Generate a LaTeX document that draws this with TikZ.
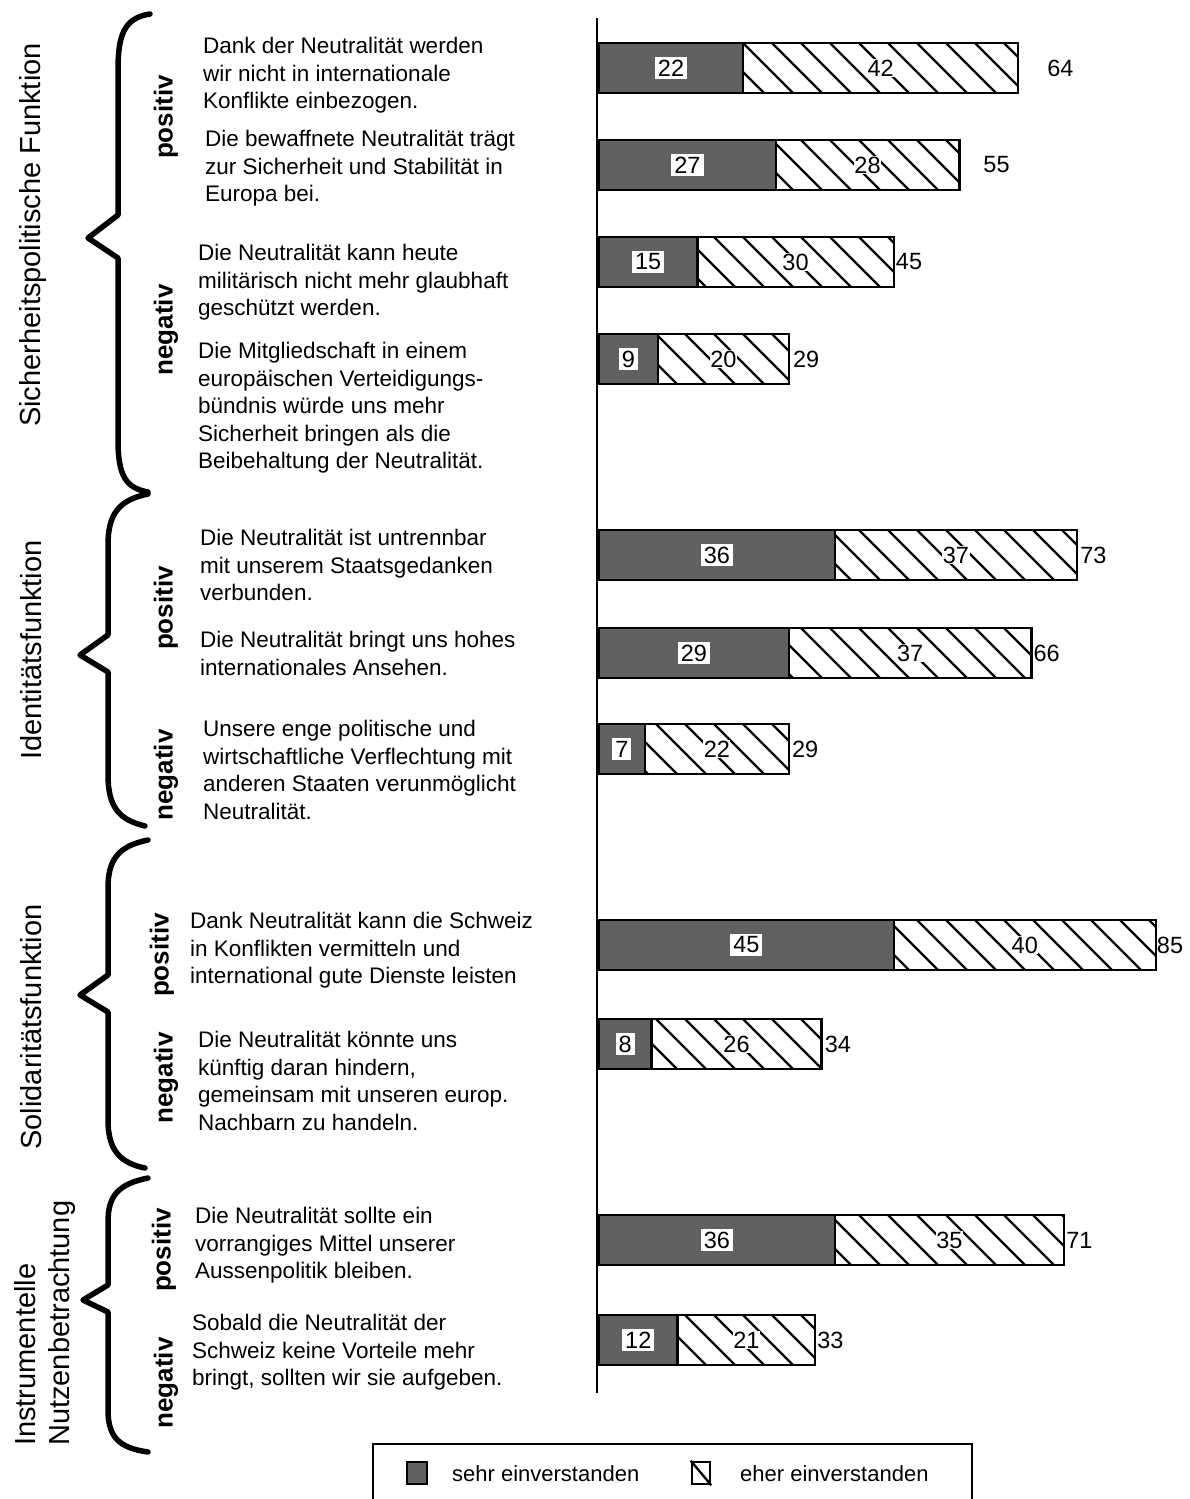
\documentclass[tikz,border=0pt]{standalone}
\usepackage{fontspec}
\setmainfont{Liberation Sans}

\newcommand{\surveybar}[5]{%
  \pgfmathsetmacro\xa{599+6.55*#3}%
  \pgfmathsetmacro\xb{599+6.55*(#3+#4)}%
  \pgfmathtruncatemacro\tot{#3+#4}%
  \path[darkpart] (599,#2-25) rectangle (\xa,#2+25);
  \begin{scope}
    \clip (\xa,#2-25) rectangle (\xb,#2+25);
    \foreach \k in {0,...,22} {\draw[hatchline] (540+\k*29,#2-25) -- ++(50,50);}
  \end{scope}
  \draw[barline] (\xa,#2-25) -- (\xa,#2+25);
  \draw[barline] (599,#2-25) rectangle (\xb,#2+25);
  \node[darknum] (#1-a) at ({(599+\xa)/2},#2) {#3};
  \node[hatchnum] (#1-b) at ({(\xa+\xb)/2},#2) {#4};
  \node[totnum] (#1-t) at (\xb+#5,#2) {\tot};
}

\begin{document}
\begin{tikzpicture}[x=1pt,y=-1pt,
  stmt/.style={anchor=north west, align=left, inner sep=0pt, font=\fontsize{22.5}{27.5}\selectfont},
  grouplabel/.style={rotate=90, inner sep=0pt, font=\fontsize{29}{34}\selectfont, align=left},
  pnlabel/.style={rotate=90, inner sep=0pt, font=\fontsize{26}{30}\selectfont\bfseries},
  brace/.style={line width=5.5pt, line cap=round, line join=round},
  darkpart/.style={fill=black!62},
  hatchline/.style={line width=2.3pt},
  barline/.style={line width=2.5pt},
  darknum/.style={fill=white, inner sep=3pt, font=\fontsize{23.5}{23.5}\selectfont},
  hatchnum/.style={fill=white, inner sep=0.5pt, font=\fontsize{23.5}{23.5}\selectfont},
  totnum/.style={anchor=west, inner sep=0pt, font=\fontsize{23.5}{23.5}\selectfont},
  legtext/.style={anchor=west, inner sep=0pt, font=\fontsize{22}{22}\selectfont}]
\useasboundingbox (0,0) rectangle (1190,1499);

% group labels
\node[grouplabel] (g1) at (33,235) {Sicherheitspolitische Funktion};
\node[grouplabel] (g2) at (31,650) {Identitätsfunktion};
\node[grouplabel] (g3) at (31,1027) {Solidaritätsfunktion};
\node[grouplabel, anchor=west] (g4) at (45,1446) {Instrumentelle\\Nutzenbetrachtung};

% braces
\draw[brace] (150,14) .. controls (124,18) and (118,35) .. (118,70) -- (118,215)
  -- (88,238) -- (118,258) -- (118,440) .. controls (118,476) and (126,488) .. (148,492);
\draw[brace] (148,494) .. controls (118,500) and (108,515) .. (108,545) -- (108,635)
  -- (80,655) -- (108,672) -- (108,775) .. controls (108,808) and (120,820) .. (145,826);
\draw[brace] (148,840) .. controls (118,846) and (108,860) .. (108,888) -- (108,975)
  -- (80,995) -- (108,1012) -- (108,1120) .. controls (108,1150) and (120,1163) .. (145,1168);
\draw[brace] (148,1178) .. controls (118,1184) and (108,1196) .. (108,1222) -- (108,1285)
  -- (83,1300) -- (108,1312) -- (108,1410) .. controls (108,1438) and (120,1448) .. (148,1452);

% positiv / negativ
\node[pnlabel] (p1) at (166,117) {positiv};
\node[pnlabel] (n1) at (166,330) {negativ};
\node[pnlabel] (p2) at (166,608) {positiv};
\node[pnlabel] (n2) at (166,775) {negativ};
\node[pnlabel] (p3) at (162,955) {positiv};
\node[pnlabel] (n3) at (166,1078) {negativ};
\node[pnlabel] (p4) at (164,1250) {positiv};
\node[pnlabel] (n4) at (166,1383) {negativ};

% statements
\node[stmt] (s1) at (203,37) {Dank der Neutralität werden\\wir nicht in internationale\\Konflikte einbezogen.};
\node[stmt] (s2) at (205,130) {Die bewaffnete Neutralität trägt\\zur Sicherheit und Stabilität in\\Europa bei.};
\node[stmt] (s3) at (198,244) {Die Neutralität kann heute\\militärisch nicht mehr glaubhaft\\geschützt werden.};
\node[stmt] (s4) at (198,342) {Die Mitgliedschaft in einem\\europäischen Verteidigungs-\\bündnis würde uns mehr\\Sicherheit bringen als die\\Beibehaltung der Neutralität.};
\node[stmt] (s5) at (200,529) {Die Neutralität ist untrennbar\\mit unserem Staatsgedanken\\verbunden.};
\node[stmt] (s6) at (200,631) {Die Neutralität bringt uns hohes\\internationales Ansehen.};
\node[stmt] (s7) at (203,720) {Unsere enge politische und\\wirtschaftliche Verflechtung mit\\anderen Staaten verunmöglicht\\Neutralität.};
\node[stmt] (s8) at (190,912) {Dank Neutralität kann die Schweiz\\in Konflikten vermitteln und\\international gute Dienste leisten};
\node[stmt] (s9) at (198,1031) {Die Neutralität könnte uns\\künftig daran hindern,\\gemeinsam mit unseren europ.\\Nachbarn zu handeln.};
\node[stmt] (s10) at (195,1207) {Die Neutralität sollte ein\\vorrangiges Mittel unserer\\Aussenpolitik bleiben.};
\node[stmt] (s11) at (192,1314) {Sobald die Neutralität der\\Schweiz keine Vorteile mehr\\bringt, sollten wir sie aufgeben.};

% bars
\surveybar{b1}{68}{22}{42}{29}
\surveybar{b2}{165}{27}{28}{24}
\surveybar{b3}{262}{15}{30}{2}
\surveybar{b4}{359}{9}{20}{4}
\surveybar{b5}{555}{36}{37}{3}
\surveybar{b6}{653}{29}{37}{2}
\surveybar{b7}{749}{7}{22}{3}
\surveybar{b8}{945}{45}{40}{1}
\surveybar{b9}{1044}{8}{26}{3}
\surveybar{b10}{1240}{36}{35}{2}
\surveybar{b11}{1340}{12}{21}{2}

% axis
\coordinate (axtop) at (597,18);
\coordinate (axbot) at (597,1393);
\draw[line width=2.5pt] (axtop) -- (axbot);

% legend
\coordinate (lgA) at (373,1499);
\coordinate (lgB) at (373,1444);
\coordinate (lgC) at (972,1444);
\coordinate (lgD) at (972,1499);
\draw[line width=2.5pt] (lgA) -- (lgB) -- (lgC) -- (lgD);
\node[draw, line width=1.5pt, darkpart, minimum width=20pt, minimum height=22pt, inner sep=0pt] (legdark) at (417,1473) {};
\node[legtext] (legdarktxt) at (452,1474) {sehr einverstanden};
\node[draw, line width=2.5pt, minimum width=18pt, minimum height=22pt, inner sep=0pt] (leghatch) at (701,1473) {};
\draw[hatchline] (leghatch.north west) -- (leghatch.south east);
\node[legtext] (leghatchtxt) at (740,1474) {eher einverstanden};
\end{tikzpicture}
\end{document}
